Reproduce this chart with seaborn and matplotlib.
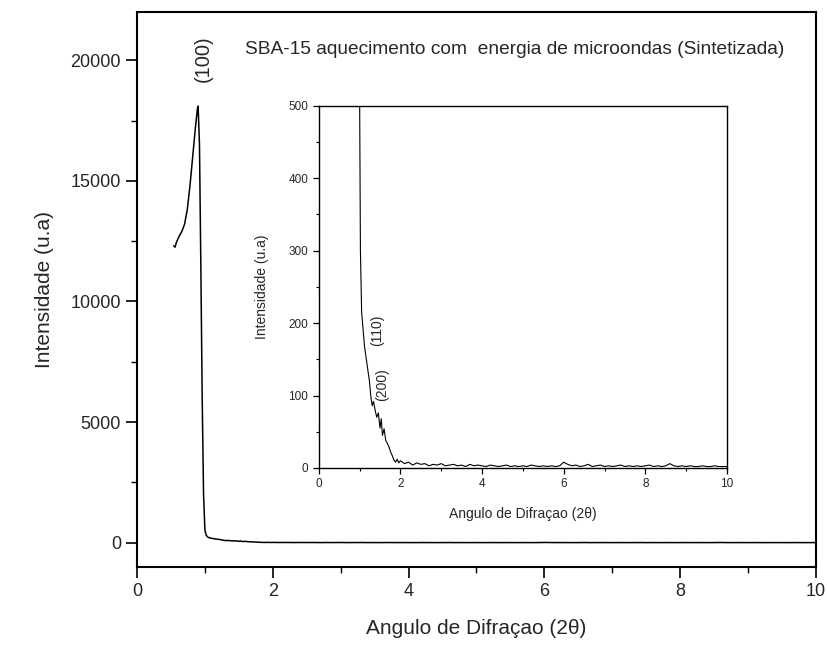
import numpy as np
import pandas as pd
import matplotlib
matplotlib.use("Agg")
import matplotlib.pyplot as plt
import seaborn as sns
from matplotlib.ticker import MultipleLocator

# ---- data ----
two_theta_peak = [0.54, 0.56, 0.58, 0.62, 0.66, 0.70, 0.74, 0.78, 0.82, 0.86, 0.89, 0.90,
                  0.92, 0.94, 0.96, 0.98, 1.00, 1.02, 1.05, 1.08, 1.12, 1.16, 1.20, 1.24,
                  1.28, 1.31, 1.34, 1.38, 1.42, 1.46, 1.50, 1.53, 1.56, 1.60, 1.64, 1.68,
                  1.72, 1.76, 1.80, 1.84, 1.88, 1.92, 1.96]
intensity_peak = [12300, 12250, 12450, 12700, 12900, 13200, 13800, 14800, 16000, 17200, 18000, 18100,
                  16500, 11500, 6000, 2000, 520, 300, 215, 195, 168, 152, 136, 120,
                  96, 86, 92, 80, 70, 76, 55, 68, 45, 54, 38, 34,
                  29, 22, 17, 11, 8, 12, 7]
two_theta_tail = [round(2.0 + 0.1 * i, 1) for i in range(81)]
intensity_tail = [10, 6, 8, 4, 7, 5, 6, 3, 5, 4,
                  6, 3, 4, 5, 3, 4, 2, 5, 3, 4,
                  3, 2, 4, 3, 2, 3, 4, 2, 3, 2,
                  3, 2, 4, 3, 2, 3, 2, 3, 2, 3,
                  8, 5, 3, 4, 2, 3, 5, 2, 3, 4,
                  2, 3, 2, 3, 4, 2, 3, 2, 3, 2,
                  3, 4, 2, 3, 2, 3, 6, 3, 2, 3,
                  2, 3, 2, 2, 3, 2, 2, 3, 2, 2, 2]

df = pd.DataFrame({"two_theta": two_theta_peak + two_theta_tail,
                   "intensity": intensity_peak + intensity_tail})

sns.set_style("ticks")
plt.rcParams["font.family"] = ["Liberation Sans", "DejaVu Sans"]

fig = plt.figure(figsize=(8.28, 6.47), dpi=100)
ax = fig.add_axes([0.1655, 0.124, 0.8197, 0.8575])
sns.lineplot(data=df, x="two_theta", y="intensity", ax=ax, color="black",
             linewidth=1.1, estimator=None, sort=False)
ax.set_xlim(0, 10)
ax.set_ylim(-1000, 22000)
ax.set_xticks([0, 2, 4, 6, 8, 10])
ax.set_yticks([0, 5000, 10000, 15000, 20000])
ax.xaxis.set_minor_locator(MultipleLocator(1))
ax.yaxis.set_minor_locator(MultipleLocator(2500))
ax.tick_params(which="major", direction="out", length=8, width=1.2, labelsize=13, color="black")
ax.tick_params(which="minor", direction="out", length=4, width=1.0, color="black")
for s in ax.spines.values():
    s.set_linewidth(1.5)
    s.set_color("black")
ax.set_xlabel("Angulo de Difraçao (2θ)", fontsize=15, labelpad=14)
ax.set_ylabel("Intensidade (u.a)", fontsize=15, labelpad=12)
ax.text(0.97, 20050, "(100)", rotation=90, ha="center", va="center", fontsize=14.5)
ax.text(1.59, 20450, "SBA-15 aquecimento com  energia de microondas (Sintetizada)",
        ha="left", va="center", fontsize=13.8)

ins = fig.add_axes([0.385, 0.2767, 0.493, 0.5599])
sns.lineplot(data=df, x="two_theta", y="intensity", ax=ins, color="black",
             linewidth=0.8, estimator=None, sort=False)
ins.set_xlim(0, 10)
ins.set_ylim(0, 500)
ins.set_xticks([0, 2, 4, 6, 8, 10])
ins.set_yticks([0, 100, 200, 300, 400, 500])
ins.xaxis.set_minor_locator(MultipleLocator(1))
ins.yaxis.set_minor_locator(MultipleLocator(50))
ins.tick_params(which="major", direction="out", length=4, width=0.9, labelsize=8.5, color="black")
ins.tick_params(which="minor", direction="out", length=2, width=0.8, color="black")
for s in ins.spines.values():
    s.set_linewidth(1.0)
    s.set_color("black")
ins.set_xlabel("Angulo de Difraçao (2θ)", fontsize=10, labelpad=12)
ins.set_ylabel("Intensidade (u.a)", fontsize=10, labelpad=14)
ins.text(1.42, 190, "(110)", rotation=90, ha="center", va="center", fontsize=10)
ins.text(1.56, 115, "(200)", rotation=90, ha="center", va="center", fontsize=10)

fig.savefig("out.png", dpi=100)
